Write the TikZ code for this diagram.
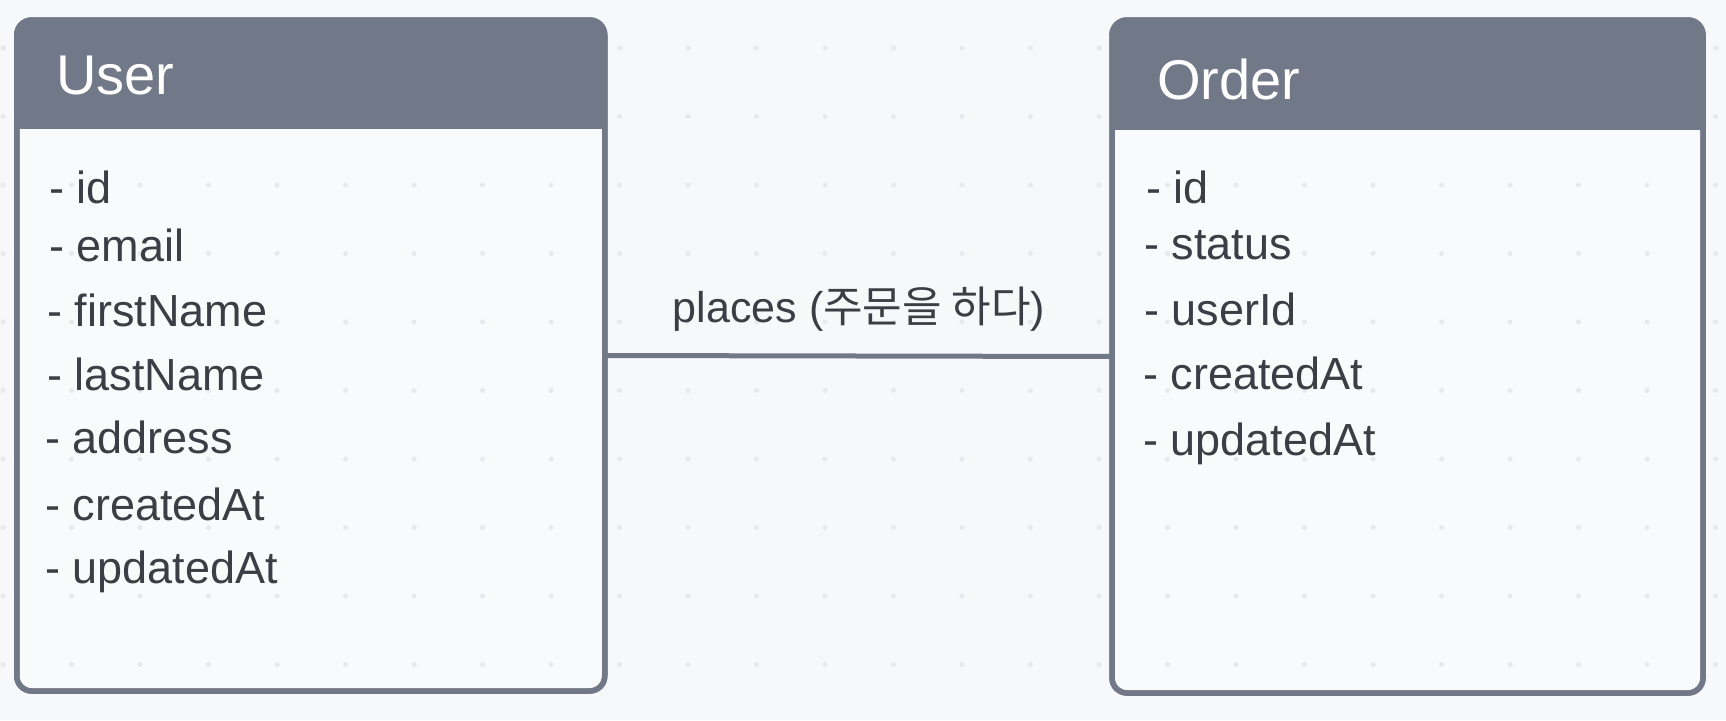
\documentclass[tikz,border=0pt]{standalone}
\usepackage{fontspec}
\setmainfont{Liberation Sans}
\newfontfamily\kr{Noto Sans CJK KR}
\definecolor{bgc}{HTML}{F7F8FA}
\definecolor{hdr}{HTML}{717887}
\definecolor{txt}{HTML}{3B3E45}
\definecolor{dotc}{HTML}{E8E9EE}
\definecolor{bodyc}{HTML}{F9FAFB}
\tikzset{
  ent/.style={rectangle, draw=hdr, line width=5.5pt, rounded corners=15pt, fill=bodyc, inner sep=0pt, outer sep=0pt},
  bord/.style={draw=hdr, line width=5.5pt, rounded corners=15pt},
  htxt/.style={anchor=base west, inner sep=0pt, text=white, font=\fontsize{56}{64}\selectfont},
  fld/.style={anchor=base west, inner sep=0pt, text=txt, font=\fontsize{45}{52}\selectfont},
  lbl/.style={anchor=base, inner sep=0pt, text=txt, font=\fontsize{43}{50}\selectfont},
  conn/.style={draw=hdr, line width=5pt}
}
\begin{document}
\begin{tikzpicture}[x=1pt,y=-1pt]
\fill[bgc] (0,0) rectangle (1726,720);
\useasboundingbox (0,0) rectangle (1726,720);
% boxes
\node[ent, minimum width=588pt, minimum height=671pt] (user) at (310.75,355.5) {};
\node[ent, minimum width=591pt, minimum height=673pt] (order) at (1407.5,356.5) {};
% dot grid
\foreach \i in {0,...,25}{
  \foreach \j in {0,...,10}{
    \fill[dotc] ({3+68.5*\i},{48+68.5*\j}) circle (2.5pt);
  }
}
% headers
\begin{scope}
  \clip (user.north west) rectangle (user.east |- 0,128);
  \fill[hdr, rounded corners=15pt] (user.north west) rectangle (user.south east);
\end{scope}
\begin{scope}
  \clip (order.north west) rectangle (order.east |- 0,129);
  \fill[hdr, rounded corners=15pt] (order.north west) rectangle (order.south east);
\end{scope}
\draw[bord] (user.north west) rectangle (user.south east);
\draw[bord] (order.north west) rectangle (order.south east);
% connector
\draw[conn] (user.east) -- (order.west);
\node[lbl] (rel) at (859,322) {places ({\kr 주문을 하다})};
% titles
\node[htxt] (utitle) at (56,94) {User};
\node[htxt] (otitle) at (1157,99) {Order};
% user fields
\node[fld] (u1) at (49,203) {- id};
\node[fld] (u2) at (49,261) {- email};
\node[fld] (u3) at (47,326) {- firstName};
\node[fld] (u4) at (47,390) {- lastName};
\node[fld] (u5) at (45,453) {- address};
\node[fld] (u6) at (45,520) {- createdAt};
\node[fld] (u7) at (45,583) {- updatedAt};
% order fields
\node[fld] (o1) at (1146,203) {- id};
\node[fld] (o2) at (1144,259) {- status};
\node[fld] (o3) at (1144,325) {- userId};
\node[fld] (o4) at (1143,389) {- createdAt};
\node[fld] (o5) at (1143,455) {- updatedAt};
\end{tikzpicture}
\end{document}
